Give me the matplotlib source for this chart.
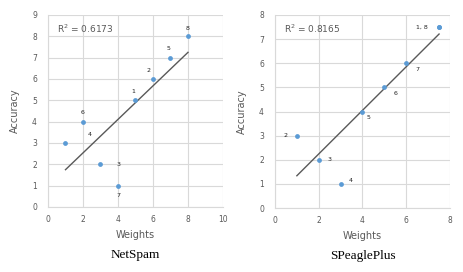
import numpy as np
import matplotlib
matplotlib.use("Agg")
import matplotlib.pyplot as plt

# NetSpam
ns_ids = ["1", "2", "3", "4", "5", "6", "7", "8"]
ns_weights = [5, 6, 3, 1, 7, 2, 4, 8]
ns_accuracy = [5, 6, 2, 3, 7, 4, 1, 8]
ns_offsets = [(-2, 9), (-4, 9), (16, 0), (22, 9), (-2, 9), (0, 9), (0, -10), (0, 8)]

# SPeaglePlus ("1, 8" share one point)
sp_ids = ["1, 8", "2", "3", "4", "5", "6", "7", "1, 8"]
sp_weights = [7.5, 1, 2, 3, 4, 5, 6, 7.5]
sp_accuracy = [7.5, 3, 2, 1, 4, 5, 6, 7.5]
sp_offsets = [(-11, 0), (-9, 0), (9, 0), (8, 3), (6, -6), (9, -6), (9, -6), None]

BLUE = "#5B9BD5"
GRAY = "#595959"
GRID = "#D9D9D9"

fig = plt.figure(figsize=(4.64, 2.72), dpi=100)


def panel(rect, x, y, ids, offsets, xmax, ymax, title):
    ax = fig.add_axes(rect)
    x = np.array(x, dtype=float)
    y = np.array(y, dtype=float)
    ax.scatter(x, y, s=12, color=BLUE, zorder=3, linewidths=0)
    k, b = np.polyfit(x, y, 1)
    r2 = np.corrcoef(x, y)[0, 1] ** 2
    xs = np.array([x.min(), x.max()])
    ax.plot(xs, k * xs + b, color=GRAY, lw=1.0, zorder=2)
    for lab, xi, yi, off in zip(ids, x, y, offsets):
        if off is None:
            continue
        ha = "right" if off[0] < -6 else ("left" if off[0] > 6 else "center")
        ax.annotate(lab, (xi, yi), xytext=off, textcoords="offset pixels",
                    ha=ha, va="center", fontsize=4.5, color="#222222")
    ax.text(0.05, 0.93, "R$^2$ = %.4f" % r2, transform=ax.transAxes,
            fontsize=6.5, color=GRAY, va="center", ha="left")
    ax.set_xlim(0, xmax)
    ax.set_ylim(0, ymax)
    ax.set_xticks(np.arange(0, xmax + 1, 2))
    ax.set_yticks(np.arange(0, ymax + 1, 1))
    ax.grid(True, color=GRID, lw=0.8)
    ax.set_axisbelow(True)
    for s in ["top", "right"]:
        ax.spines[s].set_visible(False)
    for s in ["left", "bottom"]:
        ax.spines[s].set_color(GRID)
        ax.spines[s].set_linewidth(0.8)
    ax.tick_params(length=0, labelsize=5.5, labelcolor=GRAY, pad=6)
    ax.tick_params(axis="y", pad=8)
    ax.set_xlabel("Weights", fontsize=7, color=GRAY, labelpad=4)
    ax.set_ylabel("Accuracy", fontsize=7, color=GRAY, labelpad=9)
    ax.text(0.5, -0.25, title, transform=ax.transAxes, ha="center", va="center",
            fontsize=9.5, family="Liberation Serif", color="black")
    return ax


panel([48 / 464, 1 - 207 / 272, 175 / 464, 192 / 272],
      ns_weights, ns_accuracy, ns_ids, ns_offsets, 10, 9, "NetSpam")
panel([275 / 464, 1 - 208 / 272, 175 / 464, 193 / 272],
      sp_weights, sp_accuracy, sp_ids, sp_offsets, 8, 8, "SPeaglePlus")

plt.savefig("out.png", dpi=100)
